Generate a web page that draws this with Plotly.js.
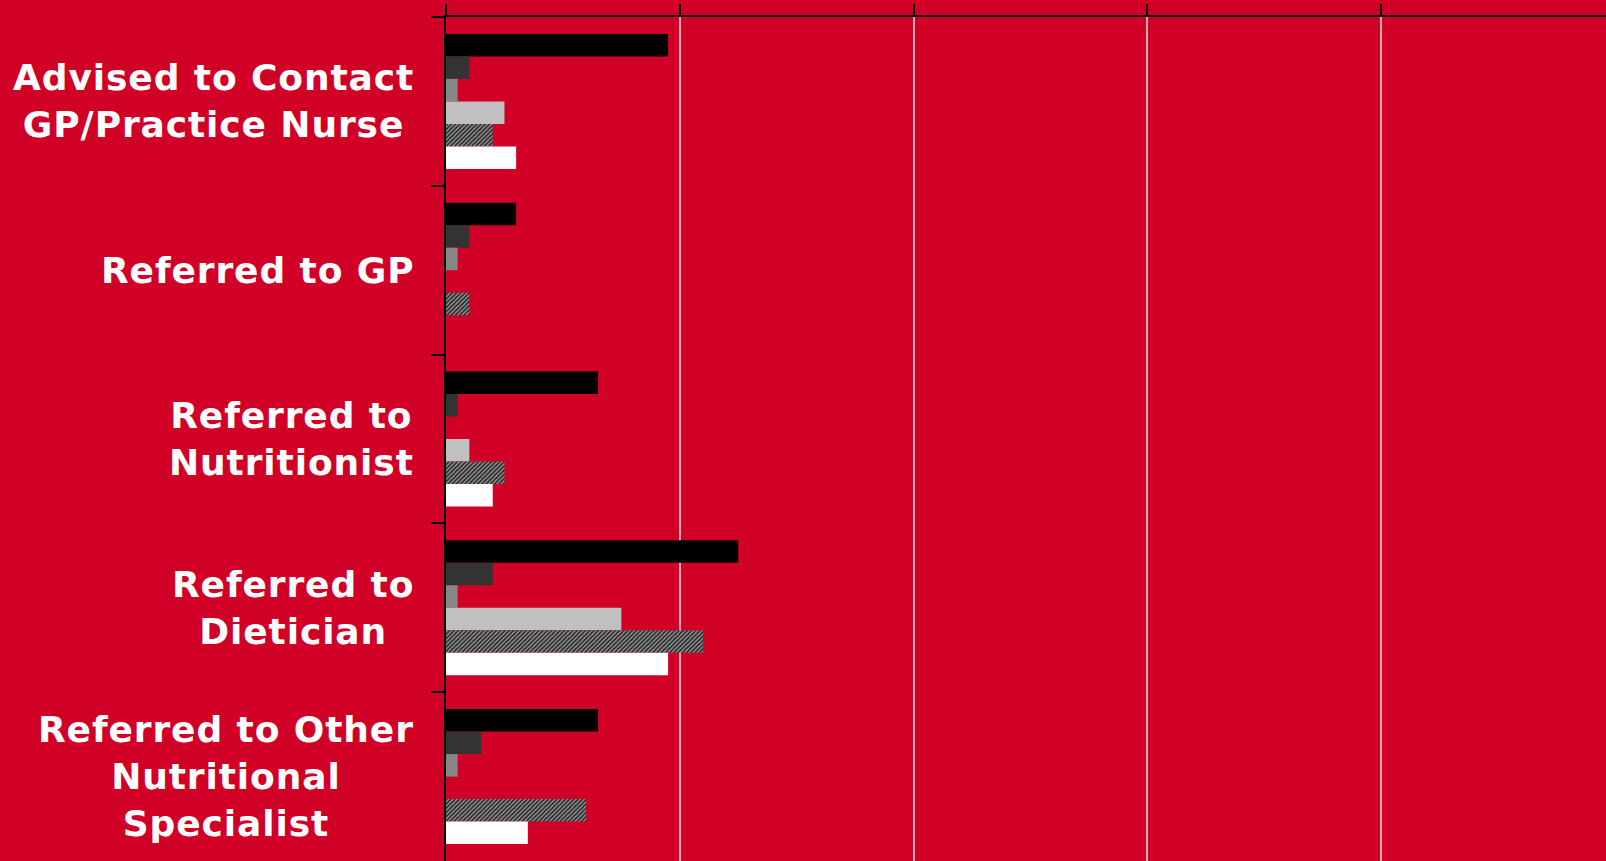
<!DOCTYPE html>
<html>
<head>
<meta charset="utf-8">
<script src="https://cdn.plot.ly/plotly-3.0.1.min.js"></script>
<style>
  html, body { margin: 0; padding: 0; background: #D10027; overflow: hidden; }
  #chart { width: 1606px; height: 861px; }
  .annotation-text { letter-spacing: 0.9px; }
</style>
</head>
<body>
<div id="chart"></div>
<script>
// Categories (keys) and the labels shown for them
const categories = ["Advised to Contact GP/Practice Nurse", "Referred to GP", "Referred to Nutritionist", "Referred to Dietician", "Referred to Other Nutritional Specialist"];
const categoryLabels = ["Advised to Contact<br>GP/Practice Nurse", "Referred to GP", "Referred to<br>Nutritionist", "Referred to<br>Dietician", "Referred to Other<br>Nutritional<br>Specialist"];

// Series values
const series1 = [19, 6, 13, 25, 13];
const series2 = [2, 2, 1, 4, 3];
const series3 = [1, 1, 0, 1, 1];
const series4 = [5, 0, 2, 15, 0];
const series5 = [4, 2, 5, 22, 12];
const series6 = [6, 0, 4, 19, 7];
const seriesNames = ["Series 1", "Series 2", "Series 3", "Series 4", "Series 5", "Series 6"];

const BG = "#D10027";
const allSeries = [series1, series2, series3, series4, series5, series6];
const markerStyles = [
  {color: "#000000"},
  {color: "#333333"},
  {color: "#878787"},
  {color: "#C0C0C0"},
  {color: "#333333", pattern: {shape: "/", fgcolor: "#9a9a9a", bgcolor: "#262626", size: 3, solidity: 0.45}},
  {color: "#FFFFFF"}
];

const traces = allSeries.map((vals, i) => ({
  type: "bar",
  orientation: "h",
  name: seriesNames[i],
  y: categories,
  x: vals,
  marker: Object.assign({line: {width: 0}}, markerStyles[i]),
  hoverinfo: "x+y+name"
}));

const annotations = categories.map((c, i) => ({
  xref: "paper", yref: "y",
  x: 0, y: c,
  xanchor: "right", yanchor: "middle",
  xshift: -30,
  align: "center",
  showarrow: false,
  text: categoryLabels[i],
  font: {family: "DejaVu Sans, Verdana, sans-serif", size: 36, color: "#FFFFFF", weight: "bold"}
}));

const layout = {
  width: 1606, height: 861,
  margin: {l: 446, r: 0, t: 17, b: 0, pad: 0},
  paper_bgcolor: BG,
  plot_bgcolor: BG,
  showlegend: false,
  barmode: "group",
  bargap: 0.2,
  bargroupgap: 0,
  xaxis: {
    side: "top",
    range: [0, 99.23],
    dtick: 20, tick0: 0,
    showticklabels: false,
    ticks: "outside", ticklen: 11, tickwidth: 2, tickcolor: "#000000",
    showline: true, linecolor: "#000000", linewidth: 2,
    showgrid: true, gridcolor: "#EDA9B3", gridwidth: 2,
    zeroline: false,
    fixedrange: true
  },
  yaxis: {
    type: "category",
    autorange: "reversed",
    showticklabels: false,
    ticks: "outside", ticklen: 13, tickwidth: 2, tickcolor: "#000000",
    tickson: "boundaries",
    showline: true, linecolor: "#000000", linewidth: 2,
    showgrid: false, zeroline: false,
    fixedrange: true
  },
  annotations: annotations
};

Plotly.newPlot("chart", traces, layout, {displayModeBar: false, staticPlot: true});
</script>
</body>
</html>
